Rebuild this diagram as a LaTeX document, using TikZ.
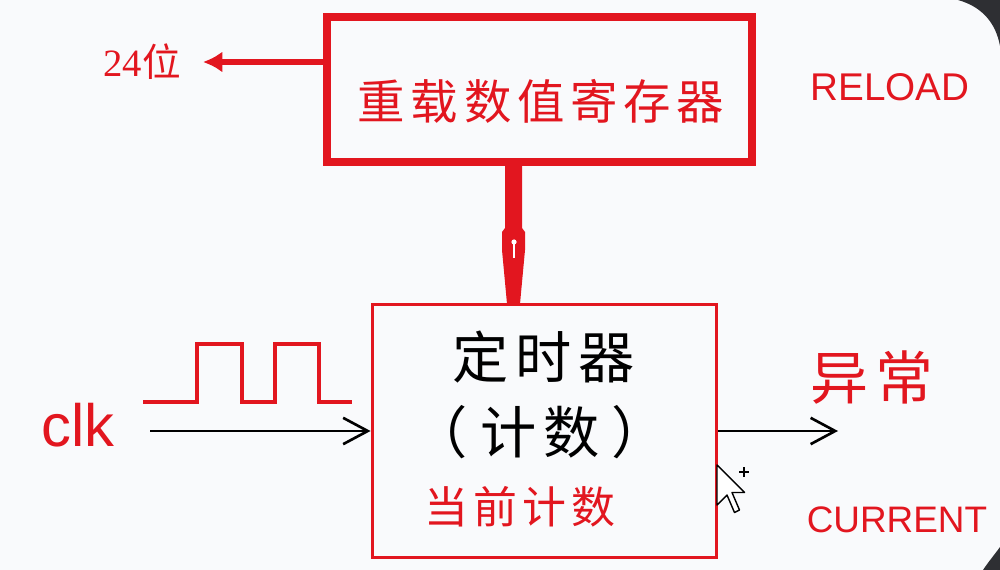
\documentclass[tikz,border=0pt]{standalone}
\usepackage{fontspec}
\setmainfont{Liberation Serif}
\setsansfont{Liberation Sans}
\newfontfamily\cjk{Noto Sans CJK SC}
\newfontfamily\cjkwide[LetterSpace=12]{Noto Sans CJK SC}
\usepackage{xcolor}
\usetikzlibrary{arrows.meta}
\definecolor{boxred}{HTML}{E2161F}
\definecolor{pagebg}{HTML}{F9FAFC}
\definecolor{screen}{HTML}{2E2F33}

\begin{document}
\begin{tikzpicture}[x=0.02cm, y=-0.02cm,
	box/.style={rectangle, draw=boxred, inner sep=0pt},
	redtext/.style={text=boxred, inner sep=0pt},
	flow/.style={draw=black, line width=1.5pt, -{Straight Barb[length=14pt,width=15pt,line width=1.5pt]}}]

% Page and screen corners
\fill[pagebg] (0,0) rectangle (1000,570);
\useasboundingbox (0,0) rectangle (1000,570);
\fill[screen] (958,0) .. controls (983,7) and (996,24) .. (1000,46) -- (1000,0) -- cycle;
\fill[screen] (983,570) .. controls (989,561) and (995,554) .. (1000,547) -- (1000,570) -- cycle;

% Reload register
\node[box, line width=4.6pt, minimum width=8.5cm, minimum height=2.9cm] (reload) at (539.5,89.5) {};
\node[redtext, font=\cjkwide\fontsize{27}{30}\selectfont] (reloadtxt) at (541,101) {重载数值寄存器};
\node[redtext, font=\sffamily\fontsize{22}{24}\selectfont] (reloadname) at (890,87) {RELOAD};

% 24 bit output
\node[redtext, font=\fontsize{22}{24}\selectfont] (bits) at (142,62) {24{\cjk 位}};
\coordinate (r24) at (reload.west |- bits);
\draw[boxred, line width=3.6pt, shorten >=0.44cm, -{Latex[length=11pt,width=12pt]}] (r24) -- (bits.east);

% Timer
\node[box, line width=1.7pt, minimum width=6.9cm, minimum height=5.08cm] (timer) at (544.5,431) {};
\node[inner sep=0pt, font=\cjkwide\fontsize{32}{36}\selectfont] (timertxt) at (544,357) {定时器};
\node[inner sep=0pt, font=\cjkwide\fontsize{32}{36}\selectfont] (counttxt) at (540,432) {（\hspace{7pt}计数\hspace{7pt}）};
\node[redtext, font=\cjkwide\fontsize{25}{28}\selectfont] (curtxt) at (520,507) {当前计数};

% Reload to timer link
\fill[boxred] (505,162) -- (522,162) -- (522,228) -- (525,232) -- (525,250) -- (521,293) -- (520,304)
	-- (507,304) -- (506,293) -- (502,250) -- (502,232) -- (505,228) -- cycle;
\fill[white] (512.6,243) rectangle (515.4,258);
\fill[white] (514,242) circle (2.6);

% Clock input
\node[redtext, font=\sffamily\fontsize{34}{38}\selectfont] (clk) at (78,425) {clk};
\draw[boxred, line width=1.8pt] (143,402) -- (197,402) -- (197,344) -- (242,344) -- (242,402)
	-- (275,402) -- (275,344) -- (319,344) -- (319,402) -- (352,402);
\coordinate (clkin) at (150,431);
\draw[flow] (clkin) -- (timer.west);

% Output
\coordinate (out) at (838,431);
\draw[flow] (timer.east) -- (out);
\node[redtext, font=\cjkwide\fontsize{33}{36}\selectfont] (fault) at (872,378) {异常};
\node[redtext, font=\sffamily\fontsize{21}{24}\selectfont] (curname) at (897,520) {CURRENT};

% Mouse pointer
\draw[fill=white, line width=0.8pt, line join=round] (717,465) -- (717,505) -- (727,495) -- (734.5,512.5)
	-- (739.5,510) -- (732,492.5) -- (744.5,492.5) -- cycle;
\draw[line width=0.9pt] (739,472) -- (749,472) (744,467) -- (744,477);
\end{tikzpicture}
\end{document}
